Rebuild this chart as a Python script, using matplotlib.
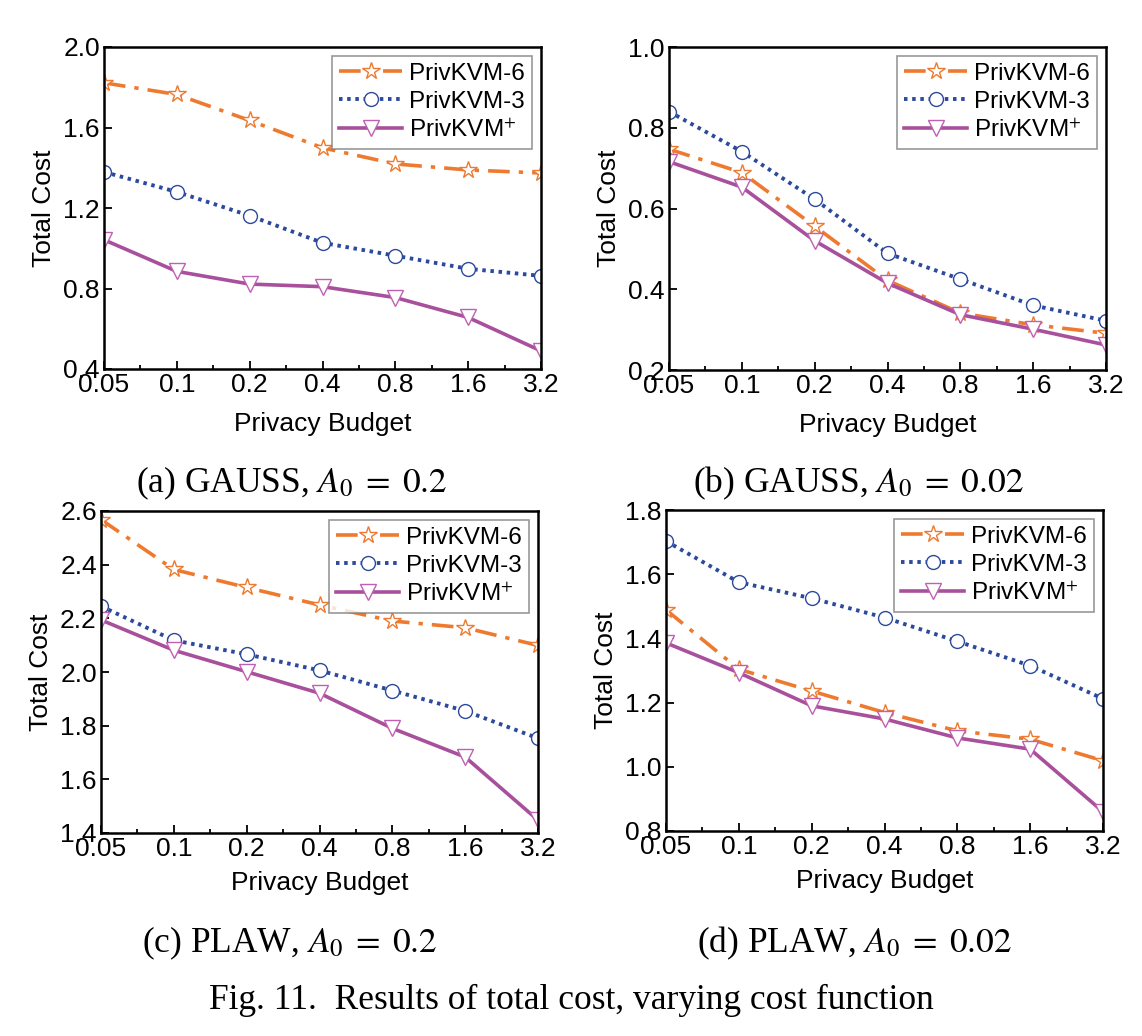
import numpy as np
import matplotlib.pyplot as plt

plt.rcParams["font.family"] = ["Liberation Sans", "DejaVu Sans"]
plt.rcParams["mathtext.fontset"] = "stix"

budgets = ["0.05", "0.1", "0.2", "0.4", "0.8", "1.6", "3.2"]
series_names = ["PrivKVM-6", "PrivKVM-3", "PrivKVM$^{+}$"]

# (a) GAUSS, A0 = 0.2
gauss_02_kvm6 = [1.822, 1.764, 1.635, 1.499, 1.419, 1.389, 1.374]
gauss_02_kvm3 = [1.379, 1.280, 1.162, 1.027, 0.963, 0.898, 0.863]
gauss_02_plus = [1.042, 0.885, 0.822, 0.809, 0.755, 0.656, 0.490]

# (b) GAUSS, A0 = 0.02
gauss_002_kvm6 = [0.747, 0.689, 0.556, 0.422, 0.341, 0.312, 0.291]
gauss_002_kvm3 = [0.840, 0.741, 0.623, 0.489, 0.425, 0.360, 0.322]
gauss_002_plus = [0.716, 0.653, 0.520, 0.415, 0.337, 0.301, 0.262]

# (c) PLAW, A0 = 0.2
plaw_02_kvm6 = [2.568, 2.382, 2.315, 2.250, 2.190, 2.165, 2.099]
plaw_02_kvm3 = [2.245, 2.118, 2.066, 2.006, 1.931, 1.855, 1.753]
plaw_02_plus = [2.194, 2.081, 2.001, 1.921, 1.790, 1.683, 1.448]

# (d) PLAW, A0 = 0.02
plaw_002_kvm6 = [1.489, 1.304, 1.236, 1.169, 1.112, 1.086, 1.019]
plaw_002_kvm3 = [1.703, 1.575, 1.525, 1.465, 1.391, 1.315, 1.212]
plaw_002_plus = [1.386, 1.293, 1.190, 1.149, 1.090, 1.055, 0.860]

captions = [r"(a) GAUSS, $A_0\;=\;0.2$", r"(b) GAUSS, $A_0\;=\;0.02$",
            r"(c) PLAW, $A_0\;=\;0.2$", r"(d) PLAW, $A_0\;=\;0.02$"]

W, H = 1142, 1036
fig = plt.figure(figsize=(W / 100, H / 100), dpi=100)


def px_axes(left, top, right, bottom):
    return fig.add_axes([left / W, 1 - bottom / H, (right - left) / W, (bottom - top) / H])


styles = [
    dict(color="#EE7A30", ls=(0, (6, 2.5, 1.2, 2.5)), lw=2.6, marker="*", ms=13,
         mfc="white", mec="#EE7A30", mew=1.0),
    dict(color="#2C4A9C", ls=(0, (0.9, 1.2)), lw=2.8, marker="o", ms=10,
         mfc="white", mec="#2C4A9C", mew=1.0),
    dict(color="#A8509C", ls="-", lw=2.6, marker="v", ms=12,
         mfc="white", mec="#C060B4", mew=1.0),
]

panels = [
    ((104, 47, 541, 369), (0.4, 2.0, 0.4), [gauss_02_kvm6, gauss_02_kvm3, gauss_02_plus], 11),
    ((669, 47, 1106, 370), (0.2, 1.0, 0.2), [gauss_002_kvm6, gauss_002_kvm3, gauss_002_plus], 11),
    ((101, 511, 538, 833), (1.4, 2.6, 0.2), [plaw_02_kvm6, plaw_02_kvm3, plaw_02_plus], 7),
    ((666, 510, 1103, 831), (0.8, 1.8, 0.2), [plaw_002_kvm6, plaw_002_kvm3, plaw_002_plus], 7),
]

x = np.arange(len(budgets))
for box, (ylo, yhi, step), data, xpad in panels:
    ax = px_axes(*box)
    for vals, name, st in zip(data, series_names, styles):
        ax.plot(x, vals, label=name, **st)
    ax.set_xlim(0, len(budgets) - 1)
    ax.set_ylim(ylo, yhi)
    ax.set_xticks(x)
    ax.set_xticklabels(budgets)
    ax.set_xticks(x[:-1] + 0.5, minor=True)
    ax.set_yticks(np.round(np.arange(ylo, yhi + step / 2, step), 2))
    ax.yaxis.set_major_formatter(plt.FormatStrFormatter("%.1f"))
    ax.tick_params(which="both", direction="in", labelsize=19, width=1.3, pad=3)
    ax.tick_params(which="major", length=6)
    ax.tick_params(which="minor", length=3)
    for s in ax.spines.values():
        s.set_linewidth(1.8)
    ax.set_xlabel("Privacy Budget", fontsize=19, labelpad=xpad)
    ax.set_ylabel("Total Cost", fontsize=19, labelpad=5)
    leg = ax.legend(loc="upper right", fontsize=17.5, frameon=True, fancybox=False,
                    handlelength=2.6, handletextpad=0.3, labelspacing=0.25,
                    borderaxespad=0.35, borderpad=0.3, numpoints=1)
    leg.get_frame().set_edgecolor("#7f7f7f")
    leg.get_frame().set_linewidth(1.2)

cap_pos = [(292, 483), (858, 483), (290, 943), (855, 943)]
for (cx, cy), txt in zip(cap_pos, captions):
    fig.text(cx / W, 1 - cy / H, txt, ha="center", va="center", fontsize=25.5,
             family="Liberation Serif")

fig.text(571 / W, 1 - 1000 / H, "Fig. 11.  Results of total cost, varying cost function",
         ha="center", va="center", fontsize=25.5, family="Liberation Serif")

fig.savefig("out.png", dpi=100)
